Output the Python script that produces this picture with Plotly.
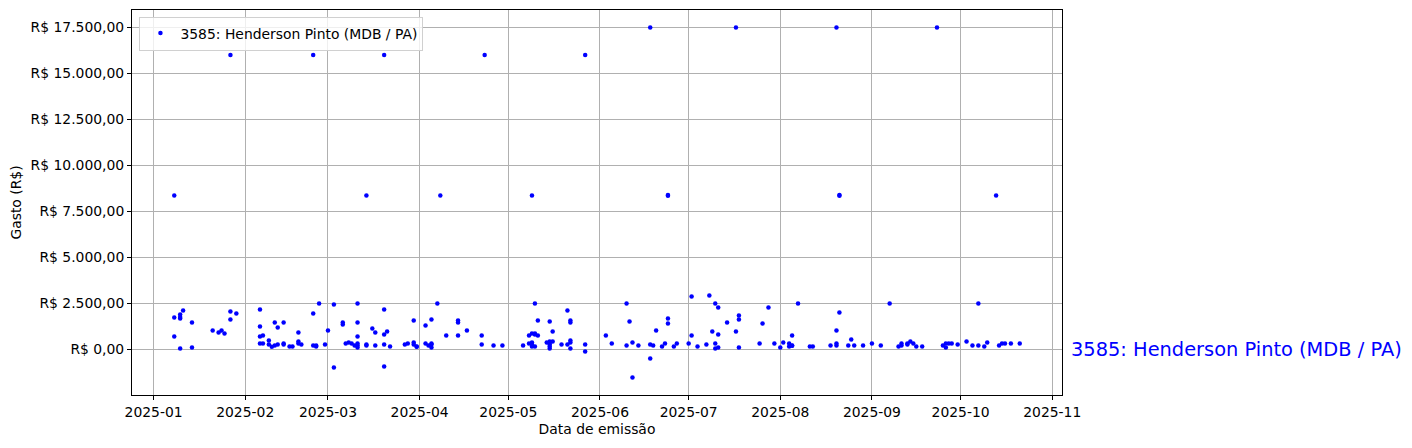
import plotly.graph_objects as go

series_name = "3585: Henderson Pinto (MDB / PA)"

dates = [
    "2025-01-08", "2025-01-08", "2025-01-08",
    "2025-01-10", "2025-01-10", "2025-01-10", "2025-01-10",
    "2025-01-11",
    "2025-01-14", "2025-01-14",
    "2025-01-21", "2025-01-23", "2025-01-24", "2025-01-25",
    "2025-01-27", "2025-01-27", "2025-01-27",
    "2025-01-29",
    "2025-02-06", "2025-02-06", "2025-02-06", "2025-02-06",
    "2025-02-07", "2025-02-07",
    "2025-02-09", "2025-02-09",
    "2025-02-10",
    "2025-02-11", "2025-02-11",
    "2025-02-12", "2025-02-12",
    "2025-02-14", "2025-02-14", "2025-02-14",
    "2025-02-16", "2025-02-17",
    "2025-02-19", "2025-02-19", "2025-02-19",
    "2025-02-20",
    "2025-02-24", "2025-02-24", "2025-02-24",
    "2025-02-25", "2025-02-25",
    "2025-02-26", "2025-02-28",
    "2025-03-01",
    "2025-03-03", "2025-03-03",
    "2025-03-06", "2025-03-06",
    "2025-03-07", "2025-03-08", "2025-03-09", "2025-03-10",
    "2025-03-11", "2025-03-11", "2025-03-11", "2025-03-11", "2025-03-11", "2025-03-11",
    "2025-03-14", "2025-03-14", "2025-03-14",
    "2025-03-16",
    "2025-03-17", "2025-03-17",
    "2025-03-20", "2025-03-20", "2025-03-20", "2025-03-20", "2025-03-20",
    "2025-03-21", "2025-03-22",
    "2025-03-27", "2025-03-28",
    "2025-03-30", "2025-03-30", "2025-03-30",
    "2025-03-31", "2025-03-31",
    "2025-04-03", "2025-04-03",
    "2025-04-04",
    "2025-04-05", "2025-04-05", "2025-04-05", "2025-04-05",
    "2025-04-07", "2025-04-08", "2025-04-10",
    "2025-04-14", "2025-04-14", "2025-04-14",
    "2025-04-17",
    "2025-04-22", "2025-04-22",
    "2025-04-23", "2025-04-26", "2025-04-29",
    "2025-05-06",
    "2025-05-08", "2025-05-08",
    "2025-05-09", "2025-05-09", "2025-05-09", "2025-05-09", "2025-05-09",
    "2025-05-10", "2025-05-10", "2025-05-10", "2025-05-10",
    "2025-05-11", "2025-05-11",
    "2025-05-14",
    "2025-05-15", "2025-05-15", "2025-05-15", "2025-05-15", "2025-05-15", "2025-05-15",
    "2025-05-16", "2025-05-16",
    "2025-05-19",
    "2025-05-21", "2025-05-21",
    "2025-05-22", "2025-05-22", "2025-05-22", "2025-05-22", "2025-05-22",
    "2025-05-27", "2025-05-27", "2025-05-27",
    "2025-06-03", "2025-06-05",
    "2025-06-10", "2025-06-10",
    "2025-06-11",
    "2025-06-12", "2025-06-12",
    "2025-06-14",
    "2025-06-18", "2025-06-18", "2025-06-18",
    "2025-06-19", "2025-06-20", "2025-06-22",
    "2025-06-23", "2025-06-24",
    "2025-06-24", "2025-06-24", "2025-06-24",
    "2025-06-26", "2025-06-27",
    "2025-07-01",
    "2025-07-02", "2025-07-02",
    "2025-07-04", "2025-07-07", "2025-07-08", "2025-07-09",
    "2025-07-10", "2025-07-10", "2025-07-10",
    "2025-07-11", "2025-07-11", "2025-07-11",
    "2025-07-14",
    "2025-07-17", "2025-07-17",
    "2025-07-18", "2025-07-18", "2025-07-18",
    "2025-07-25", "2025-07-26", "2025-07-28", "2025-07-30",
    "2025-08-01", "2025-08-02",
    "2025-08-04", "2025-08-04",
    "2025-08-05", "2025-08-05", "2025-08-05",
    "2025-08-07", "2025-08-11", "2025-08-12", "2025-08-18",
    "2025-08-20", "2025-08-20", "2025-08-20", "2025-08-20",
    "2025-08-21", "2025-08-21", "2025-08-21",
    "2025-08-24", "2025-08-25", "2025-08-26", "2025-08-29",
    "2025-09-01", "2025-09-04", "2025-09-07", "2025-09-10",
    "2025-09-11", "2025-09-11",
    "2025-09-13", "2025-09-13",
    "2025-09-14", "2025-09-15", "2025-09-16", "2025-09-18", "2025-09-23",
    "2025-09-25",
    "2025-09-26", "2025-09-26",
    "2025-09-27", "2025-09-28", "2025-09-30",
    "2025-10-03", "2025-10-05",
    "2025-10-07", "2025-10-07",
    "2025-10-09", "2025-10-10", "2025-10-13", "2025-10-14",
    "2025-10-15", "2025-10-16", "2025-10-18", "2025-10-21",
]

values = [
    706, 1738, 8370,
    1900, 1774, 1683, 54,
    2118,
    1466, 109,
    1032, 923, 1032, 869,
    16000, 2063, 1629,
    1955,
    706, 326, 2172, 1249,
    760, 326,
    489, 272,
    145,
    1466, 217,
    272, 1195,
    1466, 326, 272,
    163, 163,
    923, 434, 326,
    272,
    16000, 1955, 217,
    217, 163,
    2500, 272,
    1032,
    2450, -980,
    1466, 1357,
    326, 380, 326, 217,
    326, 2500, 706, 217, 109, 1466,
    217, 8370, 272,
    1140,
    923, 217,
    2172, 272, -923, 814, 16000,
    977, 163,
    272, 326,
    380, 272, 1575,
    163, 150,
    326, 1303,
    217,
    272, 326, 109, 1629,
    2500, 8370, 760,
    760, 1575, 1466,
    1032,
    760, 272,
    16000, 217, 217,
    217,
    760, 326,
    8370, 380, 272, 163, 869,
    2500, 814, 163, 869,
    1575, 760,
    380,
    434, 272, 163, 54, 1520, 380,
    434, 977,
    272,
    272, 2118,
    1575, 1466, 489, 380, 54,
    272, 16000, -109,
    760, 326,
    217, 2500,
    1520,
    380, -1520,
    217,
    272, 17500, -489,
    217, 1032, 163,
    326, 8350,
    1683, 1412, 8400,
    163, 326,
    326,
    760, 2878,
    163, 272, 2932, 977,
    2500, 326, 54,
    2281, 814, 109,
    1466,
    977, 17500,
    1846, 1629, 109,
    326, 1412, 2281, 326,
    109, 380,
    163, 326,
    760, 217, 200,
    2500, 163, 163, 217,
    326, 217, 1032, 17500,
    2009, 8350, 8400,
    217, 543, 217, 217,
    326, 217, 2500, 163,
    217, 326,
    326, 272,
    434, 326, 163, 163, 17500,
    217,
    326, 109,
    326, 326, 272,
    434, 217,
    217, 2500,
    163, 380, 8370, 217,
    326, 326, 326, 326,
]

y_tick_values = [0, 2500, 5000, 7500, 10000, 12500, 15000, 17500]
y_tick_labels = ["R$ 0,00", "R$ 2.500,00", "R$ 5.000,00", "R$ 7.500,00",
                 "R$ 10.000,00", "R$ 12.500,00", "R$ 15.000,00", "R$ 17.500,00"]
x_tick_values = ["2025-%02d-01" % m for m in range(1, 12)]
x_tick_labels = ["2025-%02d" % m for m in range(1, 12)]

FONT = "DejaVu Sans"
FS = 13.9

fig = go.Figure()
fig.add_trace(go.Scatter(
    x=dates, y=values, mode="markers", name=series_name,
    marker=dict(color="blue", size=4.5, line=dict(width=0)),
    showlegend=True,
))

fig.add_annotation(
    text=series_name, xref="paper", yref="y", x=1.008, y=0,
    xanchor="left", yanchor="middle", showarrow=False,
    font=dict(family=FONT, size=19.4, color="blue"),
)

axis_common = dict(
    showline=True, linecolor="black", linewidth=1, mirror=True,
    ticks="outside", ticklen=4, tickcolor="black", tickwidth=1,
    showgrid=True, gridcolor="#b0b0b0", gridwidth=0.8,
    zeroline=False,
    tickfont=dict(family=FONT, size=FS, color="black"),
)

fig.update_layout(
    width=1404, height=440,
    margin=dict(l=124, r=350, t=2, b=53),
    paper_bgcolor="white", plot_bgcolor="white",
    font=dict(family=FONT, size=FS, color="black"),
    xaxis=dict(
        **axis_common,
        type="date",
        range=["2024-12-24 17:00", "2025-11-04 07:00"],
        tickvals=x_tick_values, ticktext=x_tick_labels,
        title=dict(text="Data de emissão", standoff=5,
                   font=dict(family=FONT, size=FS, color="black")),
    ),
    yaxis=dict(
        **axis_common,
        range=[-2471, 18449],
        tickvals=y_tick_values, ticktext=y_tick_labels,
        title=dict(text="Gasto (R$)", standoff=6,
                   font=dict(family=FONT, size=FS, color="black")),
    ),
    legend=dict(
        x=0.008, y=0.983, xanchor="left", yanchor="top",
        bgcolor="rgba(255,255,255,0.8)", bordercolor="#d0d0d0", borderwidth=1,
        font=dict(family=FONT, size=FS, color="black"),
    ),
)

fig.write_html("out.html")
